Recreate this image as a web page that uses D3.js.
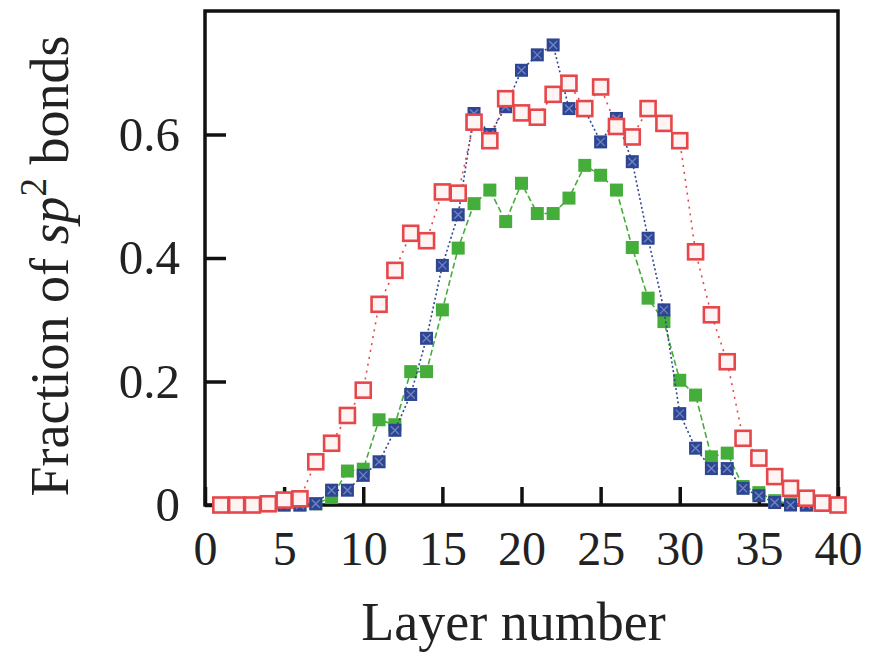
<!DOCTYPE html>
<html>
<head>
<meta charset="utf-8">
<script src="https://cdn.jsdelivr.net/npm/d3@7"></script>
<style>
  html, body { margin: 0; padding: 0; background: #fff; }
  svg { display: block; }
  text { font-family: "Liberation Serif", "Times New Roman", serif; fill: #222; }
</style>
</head>
<body>
<svg id="chart" width="873" height="654"></svg>
<script>
// Layer index along the sample
const layers = d3.range(1, 41);

// Fraction of sp2 bonds per layer, three runs
const redValues = [0, 0, 0, 0.002, 0.008, 0.01, 0.07, 0.10, 0.145, 0.186,
  0.325, 0.38, 0.44, 0.428, 0.507, 0.505, 0.62, 0.59, 0.658, 0.635,
  0.628, 0.665, 0.683, 0.642, 0.677, 0.613, 0.596, 0.642, 0.618, 0.59,
  0.41, 0.308, 0.232, 0.108, 0.076, 0.046, 0.027, 0.011, 0.003, 0];
const blueValues = [0, 0, 0, 0, 0, 0, 0.002, 0.024, 0.024, 0.048,
  0.07, 0.121, 0.179, 0.27, 0.388, 0.47, 0.634, 0.60, 0.645, 0.704,
  0.729, 0.745, 0.642, 0.64, 0.588, 0.626, 0.556, 0.432, 0.316, 0.148,
  0.092, 0.059, 0.059, 0.027, 0.015, 0.004, 0, 0, 0, 0];
const greenValues = [0, 0, 0, 0, 0, 0, 0.002, 0.012, 0.055, 0.058,
  0.138, 0.13, 0.216, 0.216, 0.316, 0.416, 0.488, 0.51, 0.459, 0.521,
  0.472, 0.472, 0.497, 0.55, 0.534, 0.51, 0.417, 0.335, 0.297, 0.202,
  0.178, 0.078, 0.084, 0.03, 0.02, 0.007, 0.002, 0, 0, 0];

// Axis ticks
const xTicks = [0, 5, 10, 15, 20, 25, 30, 35, 40];
const yTicks = [0, 0.2, 0.4, 0.6];
const yTickLabels = ["0", "0.2", "0.4", "0.6"];

const svg = d3.select("#chart");
const plot = { left: 205, right: 838, top: 11, bottom: 505 };

const x = d3.scaleLinear().domain([0, 40]).range([plot.left, plot.right]);
const y = d3.scaleLinear().domain([0, 0.8]).range([plot.bottom, plot.top]);

// Bottom axis: inward ticks, labels below
const xAxis = d3.axisBottom(x).tickValues(xTicks).tickSize(-18).tickPadding(27)
  .tickFormat(d3.format("d"));
const gx = svg.append("g").attr("transform", `translate(0,${plot.bottom})`).call(xAxis);
gx.select(".domain").remove();
gx.selectAll(".tick line").attr("stroke", "#111").attr("stroke-width", 3.5);
gx.selectAll(".tick text").attr("font-size", 48).attr("dy", "0.68em")
  .style("font-family", "'Liberation Serif', serif").attr("fill", "#222");

// Left axis
const yAxis = d3.axisLeft(y).tickValues(yTicks).tickSize(-21).tickPadding(25)
  .tickFormat((d, i) => yTickLabels[i]);
const gy = svg.append("g").attr("transform", `translate(${plot.left},0)`).call(yAxis);
gy.select(".domain").remove();
gy.selectAll(".tick line").attr("stroke", "#111").attr("stroke-width", 3.5);
gy.selectAll(".tick text").attr("font-size", 49)
  .style("font-family", "'Liberation Serif', serif").attr("fill", "#222");

// Frame
svg.append("rect")
  .attr("x", plot.left).attr("y", plot.top)
  .attr("width", plot.right - plot.left).attr("height", plot.bottom - plot.top)
  .attr("fill", "none").attr("stroke", "#111").attr("stroke-width", 3.5);

const series = [
  { name: "green", values: greenValues, color: "#45ad3a", dash: "6,3", kind: "filled" },
  { name: "blue", values: blueValues, color: "#2e4692", dash: "2,2.5", kind: "cross" },
  { name: "red", values: redValues, color: "#e5474a", dash: "2,5", kind: "open" }
];

const line = d3.line().x((d, i) => x(layers[i])).y(d => y(d));

series.forEach(s => {
  const g = svg.append("g").attr("class", "series-" + s.name);
  g.append("path")
    .attr("d", line(s.values))
    .attr("fill", "none")
    .attr("stroke", s.color)
    .attr("stroke-width", 1.6)
    .attr("stroke-dasharray", s.dash);

  const pts = g.selectAll("g.pt").data(s.values).join("g")
    .attr("class", "pt")
    .attr("transform", (d, i) => `translate(${x(layers[i])},${y(d)})`);

  if (s.kind === "open") {
    pts.append("rect")
      .attr("x", -7.5).attr("y", -7.5).attr("width", 15).attr("height", 15)
      .attr("fill", "#fff4f4").attr("stroke", s.color).attr("stroke-width", 2.6);
  } else if (s.kind === "filled") {
    pts.append("rect")
      .attr("x", -6.5).attr("y", -6.5).attr("width", 13).attr("height", 13)
      .attr("fill", s.color);
  } else {
    pts.append("rect")
      .attr("x", -6.5).attr("y", -6.5).attr("width", 13).attr("height", 13)
      .attr("fill", s.color);
    pts.append("path")
      .attr("d", "M-4,-4L4,4M-4,4L4,-4")
      .attr("stroke", "#6f86c8").attr("stroke-width", 1.3);
  }
});

// Axis titles
svg.append("text")
  .attr("x", (plot.left + plot.right) / 2 - 8)
  .attr("y", 640)
  .attr("text-anchor", "middle")
  .attr("font-size", 54)
  .text("Layer number");

const yl = svg.append("text")
  .attr("transform", `translate(68,${(plot.top + plot.bottom) / 2 + 8}) rotate(-90)`)
  .attr("text-anchor", "middle")
  .attr("font-size", 54);
yl.append("tspan").text("Fraction of ");
yl.append("tspan").attr("font-style", "italic").text("sp");
yl.append("tspan").attr("font-size", 37).attr("dy", -22).text("2");
yl.append("tspan").attr("dy", 22).text(" bonds");
</script>
</body>
</html>
